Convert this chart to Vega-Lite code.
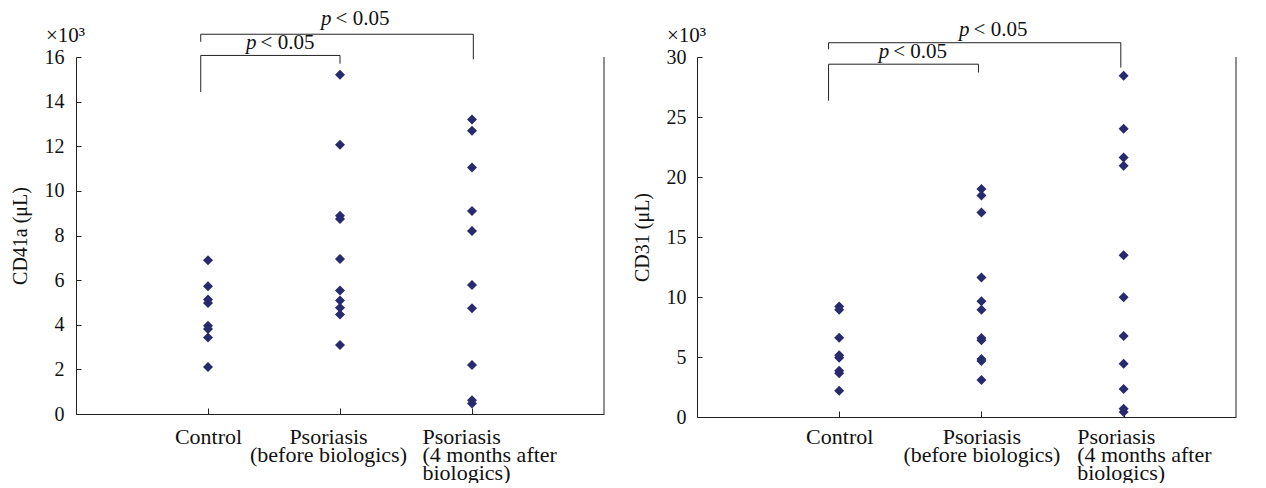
{
  "$schema": "https://vega.github.io/schema/vega-lite/v6.json",
  "background": "white",
  "padding": {"left": 10, "top": 8, "right": 5, "bottom": 0},
  "spacing": 27,
  "config": {
    "view": {"stroke": null},
    "font": "Liberation Serif",
    "axis": {
      "labelFont": "Liberation Serif",
      "titleFont": "Liberation Serif",
      "labelColor": "#111111",
      "titleColor": "#111111",
      "domainColor": "#222222",
      "tickColor": "#222222",
      "domainWidth": 1,
      "tickWidth": 1,
      "grid": false,
      "titleFontWeight": "normal",
      "labelOverlap": false,
      "labelFlush": false,
      "labelBound": false
    }
  },
  "datasets": {
    "cd41": [
      {"x": 1, "y": 6.89}, {"x": 1, "y": 5.72}, {"x": 1, "y": 5.13}, {"x": 1, "y": 4.98},
      {"x": 1, "y": 3.96}, {"x": 1, "y": 3.81}, {"x": 1, "y": 3.43}, {"x": 1, "y": 2.11},
      {"x": 2, "y": 15.2}, {"x": 2, "y": 12.07}, {"x": 2, "y": 8.89}, {"x": 2, "y": 8.74},
      {"x": 2, "y": 6.95}, {"x": 2, "y": 5.54}, {"x": 2, "y": 5.09}, {"x": 2, "y": 4.76},
      {"x": 2, "y": 4.46}, {"x": 2, "y": 3.09},
      {"x": 3, "y": 13.2}, {"x": 3, "y": 12.7}, {"x": 3, "y": 11.05}, {"x": 3, "y": 9.1},
      {"x": 3, "y": 8.2}, {"x": 3, "y": 5.78}, {"x": 3, "y": 4.74}, {"x": 3, "y": 2.2},
      {"x": 3, "y": 0.62}, {"x": 3, "y": 0.47}
    ],
    "cd31": [
      {"x": 1, "y": 9.2}, {"x": 1, "y": 8.93}, {"x": 1, "y": 6.61}, {"x": 1, "y": 5.15},
      {"x": 1, "y": 4.93}, {"x": 1, "y": 3.86}, {"x": 1, "y": 3.64}, {"x": 1, "y": 2.18},
      {"x": 2, "y": 19.0}, {"x": 2, "y": 18.46}, {"x": 2, "y": 17.05}, {"x": 2, "y": 11.63},
      {"x": 2, "y": 9.64}, {"x": 2, "y": 8.93}, {"x": 2, "y": 6.59}, {"x": 2, "y": 6.4},
      {"x": 2, "y": 4.83}, {"x": 2, "y": 4.66}, {"x": 2, "y": 3.09},
      {"x": 3, "y": 28.43}, {"x": 3, "y": 24.02}, {"x": 3, "y": 21.63}, {"x": 3, "y": 20.94},
      {"x": 3, "y": 13.47}, {"x": 3, "y": 9.97}, {"x": 3, "y": 6.75}, {"x": 3, "y": 4.44},
      {"x": 3, "y": 2.34}, {"x": 3, "y": 0.69}, {"x": 3, "y": 0.41}
    ],
    "lines41": [
      {"x": 0.945, "x2": 2.0, "y": 16.07, "y2": 16.07},
      {"x": 0.945, "x2": 0.945, "y": 16.07, "y2": 14.43},
      {"x": 2.0, "x2": 2.0, "y": 16.07, "y2": 15.7},
      {"x": 0.945, "x2": 3.01, "y": 17.02, "y2": 17.02},
      {"x": 0.945, "x2": 0.945, "y": 17.02, "y2": 16.68},
      {"x": 3.01, "x2": 3.01, "y": 17.02, "y2": 15.9},
      {"x": 4, "x2": 4, "y": 0, "y2": 16}
    ],
    "lines31": [
      {"x": 0.925, "x2": 1.979, "y": 29.4, "y2": 29.4},
      {"x": 0.925, "x2": 0.925, "y": 29.4, "y2": 26.36},
      {"x": 1.979, "x2": 1.979, "y": 29.4, "y2": 28.71},
      {"x": 0.925, "x2": 2.98, "y": 31.19, "y2": 31.19},
      {"x": 0.925, "x2": 0.925, "y": 31.19, "y2": 30.64},
      {"x": 2.98, "x2": 2.98, "y": 31.19, "y2": 29.12},
      {"x": 3.79, "x2": 3.79, "y": 0, "y2": 30}
    ],
    "p41": [{"x": 1.951, "y": 17.42}, {"x": 1.383, "y": 16.35}],
    "p31": [{"x": 1.931, "y": 31.74}, {"x": 1.365, "y": 29.95}],
    "unit41": [{"x": 0, "y": 16, "t": "×10³"}],
    "unit31": [{"x": 0, "y": 30, "t": "×10³"}]
  },
  "hconcat": [
    {
      "width": 528,
      "height": 357,
      "encoding": {
        "x": {
          "field": "x", "type": "quantitative",
          "scale": {"domain": [0, 4], "nice": false, "zero": false},
          "axis": {
            "title": null, "values": [1, 2, 3], "tickSize": -6, "labelPadding": 35,
            "labelBaseline": "alphabetic", "labelFontSize": 22, "labelLineHeight": 18,
            "labelExpr": "datum.value == 1 ? 'Control' : datum.value == 2 ? ['Psoriasis', '(before biologics)'] : ['Psoriasis', '(4 months after', 'biologics)']",
            "labelAlign": {"condition": {"test": "datum.value == 3", "value": "left"}, "value": "center"},
            "labelOffset": {"condition": [{"test": "datum.value == 3", "value": -50}, {"test": "datum.value == 2", "value": -12}], "value": 0}
          }
        },
        "y": {
          "field": "y", "type": "quantitative",
          "scale": {"domain": [0, 16], "nice": false},
          "axis": {
            "title": "CD41a (μL)", "titleFontSize": 20, "titlePadding": 14,
            "values": [0, 2, 4, 6, 8, 10, 12, 14, 16], "tickSize": -5, "labelPadding": 17,
            "labelFontSize": 20
          }
        }
      },
      "layer": [
        {
          "data": {"name": "lines41"},
          "mark": {"type": "rule", "color": "#222222", "strokeWidth": 1},
          "encoding": {"x2": {"field": "x2"}, "y2": {"field": "y2"}}
        },
        {
          "data": {"name": "cd41"},
          "mark": {"type": "point", "shape": "diamond", "filled": true, "size": 100, "color": "#272b6d", "opacity": 1}
        },
        {
          "data": {"name": "p41"},
          "mark": {"type": "text", "align": "right", "baseline": "alphabetic", "dx": -2, "fontSize": 21, "fontStyle": "italic", "font": "Liberation Serif", "color": "#111111"},
          "encoding": {"text": {"value": "p"}}
        },
        {
          "data": {"name": "p41"},
          "mark": {"type": "text", "align": "left", "baseline": "alphabetic", "dx": 2, "fontSize": 21, "font": "Liberation Serif", "color": "#111111"},
          "encoding": {"text": {"value": "< 0.05"}}
        },
        {
          "data": {"name": "unit41"},
          "mark": {"type": "text", "align": "left", "baseline": "alphabetic", "dx": -30, "dy": -15, "fontSize": 21, "font": "Liberation Serif", "color": "#111111"},
          "encoding": {"text": {"field": "t"}}
        }
      ]
    },
    {
      "width": 539,
      "height": 360,
      "encoding": {
        "x": {
          "field": "x", "type": "quantitative",
          "scale": {"domain": [0, 3.79], "nice": false, "zero": false},
          "axis": {
            "title": null, "values": [1, 2, 3], "tickSize": -6, "labelPadding": 32,
            "labelBaseline": "alphabetic", "labelFontSize": 22, "labelLineHeight": 18,
            "labelExpr": "datum.value == 1 ? 'Control' : datum.value == 2 ? ['Psoriasis', '(before biologics)'] : ['Psoriasis', '(4 months after', 'biologics)']",
            "labelAlign": {"condition": {"test": "datum.value == 3", "value": "left"}, "value": "center"},
            "labelOffset": {"condition": {"test": "datum.value == 3", "value": -47}, "value": 0}
          }
        },
        "y": {
          "field": "y", "type": "quantitative",
          "scale": {"domain": [0, 30], "nice": false},
          "axis": {
            "title": "CD31 (μL)", "titleFontSize": 20, "titlePadding": 14,
            "values": [0, 5, 10, 15, 20, 25, 30], "tickSize": -5, "labelPadding": 16,
            "labelFontSize": 20
          }
        }
      },
      "layer": [
        {
          "data": {"name": "lines31"},
          "mark": {"type": "rule", "color": "#222222", "strokeWidth": 1},
          "encoding": {"x2": {"field": "x2"}, "y2": {"field": "y2"}}
        },
        {
          "data": {"name": "cd31"},
          "mark": {"type": "point", "shape": "diamond", "filled": true, "size": 100, "color": "#272b6d", "opacity": 1}
        },
        {
          "data": {"name": "p31"},
          "mark": {"type": "text", "align": "right", "baseline": "alphabetic", "dx": -2, "fontSize": 21, "fontStyle": "italic", "font": "Liberation Serif", "color": "#111111"},
          "encoding": {"text": {"value": "p"}}
        },
        {
          "data": {"name": "p31"},
          "mark": {"type": "text", "align": "left", "baseline": "alphabetic", "dx": 2, "fontSize": 21, "font": "Liberation Serif", "color": "#111111"},
          "encoding": {"text": {"value": "< 0.05"}}
        },
        {
          "data": {"name": "unit31"},
          "mark": {"type": "text", "align": "left", "baseline": "alphabetic", "dx": -30, "dy": -15, "fontSize": 21, "font": "Liberation Serif", "color": "#111111"},
          "encoding": {"text": {"field": "t"}}
        }
      ]
    }
  ]
}
